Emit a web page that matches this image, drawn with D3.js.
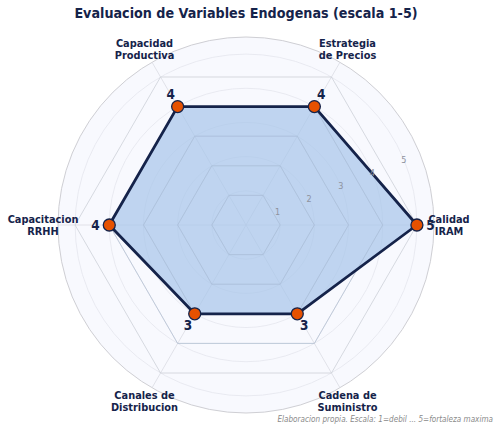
<!DOCTYPE html>
<html>
<head>
<meta charset="utf-8">
<script src="https://cdn.jsdelivr.net/npm/d3@7"></script>
<style>
  body { margin: 0; background: #fff; }
  svg { font-family: "DejaVu Sans Condensed", "DejaVu Sans", sans-serif; }
</style>
</head>
<body>
<svg width="500" height="430"></svg>
<script>
// data
const categories = [
  ["Calidad", "IRAM"],
  ["Estrategia", "de Precios"],
  ["Capacidad", "Productiva"],
  ["Capacitacion", "RRHH"],
  ["Canales de", "Distribucion"],
  ["Cadena de", "Suministro"]
]
const values = [5, 4, 4, 4, 3, 3]
const ticks = [1, 2, 3, 4, 5]

const navy = "#15234a"
var svg = d3.select('svg')
const cx = 246, cy = 225

var r = d3.scaleLinear().domain([0, 5.5]).range([0, 188])
var ang = d3.scaleLinear().domain([0, categories.length]).range([0, 2 * Math.PI])

// point at angle (counter-clockwise from east) and value
const pt = (i, v) => [cx + r(v) * Math.cos(ang(i)), cy - r(v) * Math.sin(ang(i))]

var g = svg.append('g')

// background disc
g.append('circle')
  .attr('cx', cx).attr('cy', cy).attr('r', r(5.5))
  .attr('fill', '#f8f9fe')
  .attr('stroke', '#cfcfd4').attr('stroke-width', 1)

// circular grid
g.selectAll('circle.grid').data(ticks).enter()
  .append('circle').attr('class', 'grid')
  .attr('cx', cx).attr('cy', cy).attr('r', d => r(d))
  .attr('fill', 'none').attr('stroke', '#e4e6ee').attr('stroke-width', 0.8)

// spokes
g.selectAll('line.spoke').data(categories).enter()
  .append('line').attr('class', 'spoke')
  .attr('x1', cx).attr('y1', cy)
  .attr('x2', (d, i) => pt(i, 5.5)[0])
  .attr('y2', (d, i) => pt(i, 5.5)[1])
  .attr('stroke', '#dadce3').attr('stroke-width', 0.8)

// hexagon grid
const line = d3.line().curve(d3.curveLinearClosed)
g.selectAll('path.hex').data(ticks).enter()
  .append('path').attr('class', 'hex')
  .attr('d', t => line(categories.map((c, i) => pt(i, t))))
  .attr('fill', 'none').attr('stroke', '#cdd0d8').attr('stroke-width', 0.8)

// data area
g.append('path')
  .attr('d', line(values.map((v, i) => pt(i, v))))
  .attr('fill', '#a6c5ea').attr('fill-opacity', 0.7)
  .attr('stroke', 'none')

// hexagons redrawn faintly over fill
g.selectAll('path.hex2').data(ticks.slice(0, 4)).enter()
  .append('path').attr('class', 'hex2')
  .attr('d', t => line(categories.map((c, i) => pt(i, t))))
  .attr('fill', 'none').attr('stroke', '#a9b9d2').attr('stroke-width', 0.8).attr('opacity', 0.6)

g.append('path')
  .attr('d', line(values.map((v, i) => pt(i, v))))
  .attr('fill', 'none')
  .attr('stroke', navy).attr('stroke-width', 2.8)
  .attr('stroke-linejoin', 'round')

// radial tick labels
const ta = 22.5 * Math.PI / 180
g.selectAll('text.rtick').data(ticks).enter()
  .append('text').attr('class', 'rtick')
  .attr('x', d => cx + r(d) * Math.cos(ta))
  .attr('y', d => cy - r(d) * Math.sin(ta))
  .attr('dy', '0.35em')
  .attr('text-anchor', 'middle')
  .attr('font-size', 9).attr('fill', '#8e929e')
  .text(d => d)

// markers
g.selectAll('circle.pt').data(values).enter()
  .append('circle').attr('class', 'pt')
  .attr('cx', (d, i) => pt(i, d)[0])
  .attr('cy', (d, i) => pt(i, d)[1])
  .attr('r', 6)
  .attr('fill', '#e65100').attr('stroke', navy).attr('stroke-width', 1.3)

// value labels
g.selectAll('text.val').data(values).enter()
  .append('text').attr('class', 'val')
  .attr('x', (d, i) => pt(i, d + 0.4)[0])
  .attr('y', (d, i) => pt(i, d + 0.4)[1])
  .attr('dy', '0.35em')
  .attr('text-anchor', 'middle')
  .attr('font-size', 13.5).attr('font-weight', 'bold').attr('fill', navy)
  .text(d => d)

// category labels
var lab = g.selectAll('text.cat').data(categories).enter()
  .append('text').attr('class', 'cat')
  .attr('text-anchor', 'middle')
  .attr('font-size', 10.9).attr('font-weight', 'bold').attr('fill', navy)
  .attr('transform', (d, i) => {
    const x = cx + 203 * Math.cos(ang(i)), y = cy - 203 * Math.sin(ang(i))
    return `translate(${x},${y})`
  })
lab.selectAll('tspan').data(d => d).enter()
  .append('tspan')
  .attr('x', 0)
  .attr('y', (d, j) => (j - 0.5) * 12)
  .attr('dy', '0.35em')
  .text(d => d)

// title
svg.append('text')
  .attr('x', 246).attr('y', 18)
  .attr('text-anchor', 'middle')
  .attr('font-size', 14.2).attr('font-weight', 'bold').attr('fill', navy)
  .text('Evaluacion de Variables Endogenas (escala 1-5)')

// footer
svg.append('text')
  .attr('x', 493).attr('y', 422)
  .attr('text-anchor', 'end')
  .attr('font-size', 8.1).attr('font-style', 'italic').attr('fill', '#8a8a8a')
  .text('Elaboracion propia. Escala: 1=debil ... 5=fortaleza maxima')
</script>
</body>
</html>
